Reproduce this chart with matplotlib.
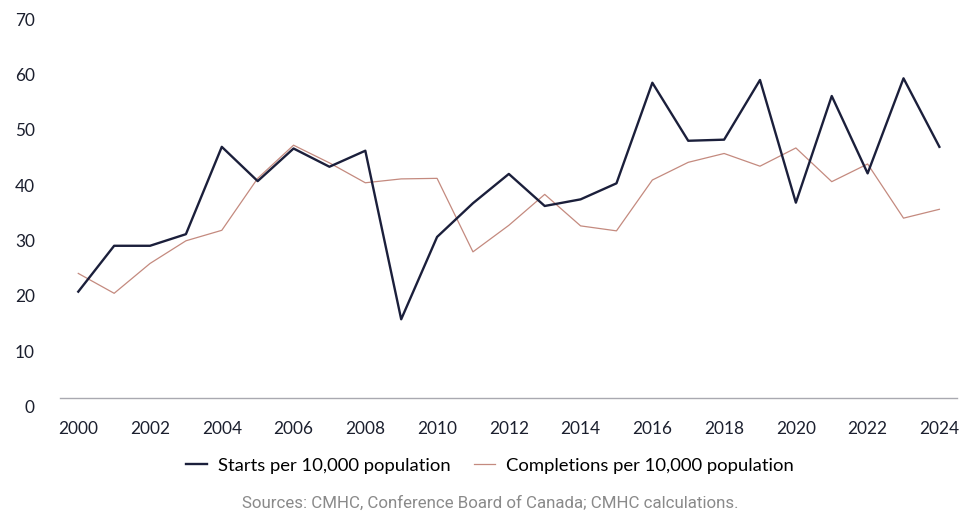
import numpy as np
import matplotlib.pyplot as plt
from matplotlib.transforms import ScaledTranslation

years = np.arange(2000, 2025)
starts = [19.3, 27.6, 27.6, 29.7, 45.5, 39.3, 45.2, 41.9, 44.8, 14.3, 29.2, 35.3,
          40.6, 34.8, 36.0, 38.9, 57.1, 46.6, 46.8, 57.6, 35.4, 54.7, 40.7, 57.9, 45.5]
completions = [22.6, 19.0, 24.4, 28.5, 30.4, 39.8, 45.8, 42.6, 39.0, 39.7, 39.8, 26.5,
               31.3, 36.9, 31.2, 30.3, 39.5, 42.7, 44.3, 42.0, 45.3, 39.2, 42.4, 32.6, 34.2]
yticks = [0, 10, 20, 30, 40, 50, 60, 70]
xticks = list(range(2000, 2025, 2))

dark = '#1b1f3b'
pink = '#c48a7f'

fig = plt.figure(figsize=(9.8, 5.2), dpi=100)
ax = fig.add_axes([0.0612, 0.234, 0.9153, 0.744])

ax.plot(years, starts, color=dark, lw=1.7, label='Starts per 10,000 population', zorder=3)
ax.plot(years, completions, color=pink, lw=0.9, label='Completions per 10,000 population', zorder=2)

ax.set_xlim(1999.49, 2024.49)
ax.set_ylim(0, 70)
ax.set_xticks(xticks)
ax.set_yticks(yticks)

for s in ['top', 'right', 'left']:
    ax.spines[s].set_visible(False)
ax.spines['bottom'].set_color('#a9a9b0')
ax.spines['bottom'].set_linewidth(1.0)

ax.tick_params(axis='both', length=0, labelsize=12.4, labelcolor='#1b1f2e')
ax.tick_params(axis='x', pad=16)
ax.tick_params(axis='y', pad=18)
for lab in ax.get_xticklabels() + ax.get_yticklabels():
    lab.set_fontfamily('Lato')
# y labels sit a little below their values in the original
off = ScaledTranslation(0, -8 / 100, fig.dpi_scale_trans)
for lab in ax.get_yticklabels():
    lab.set_transform(lab.get_transform() + off)

fig.legend(loc='center', bbox_to_anchor=(0.5, 0.104), ncol=2, frameon=False,
           prop={'family': 'Lato', 'size': 13.3}, handlelength=1.1, handletextpad=0.6,
           columnspacing=1.3)

fig.text(0.5, 0.032, 'Sources: CMHC, Conference Board of Canada; CMHC calculations.',
         ha='center', va='center', fontsize=12.2, color='#8a8a8a', family='Roboto')

fig.savefig('out.png', dpi=100)
